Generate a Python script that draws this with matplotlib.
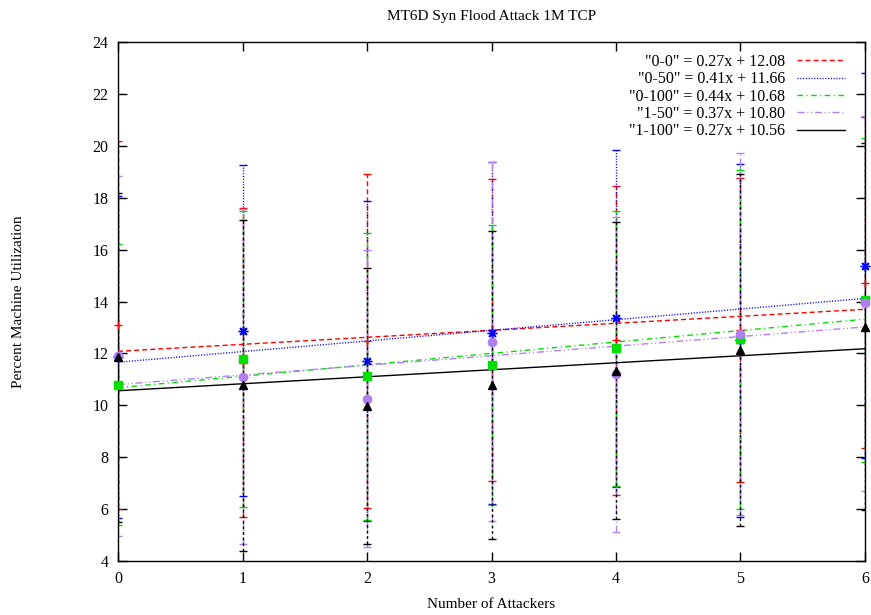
import numpy as np
import matplotlib
matplotlib.use("Agg")
import matplotlib.pyplot as plt

plt.rcParams['font.family'] = ['Liberation Serif', 'DejaVu Serif']

# number of attackers
attackers = [0, 1, 2, 3, 4, 5, 6]

# series names, mean utilisation and spread (error bar half height)
names = ["0-0", "0-50", "0-100", "1-50", "1-100"]
means_00 = [13.10, 11.64, 12.47, 12.90, 12.50, 12.90, 14.73]
err_00 = [7.10, 5.96, 6.43, 5.83, 5.95, 5.85, 6.37]
means_050 = [11.85, 12.88, 11.70, 12.77, 13.35, 12.50, 15.38]
err_050 = [6.20, 6.37, 6.16, 6.59, 6.50, 6.80, 7.41]
means_0100 = [10.80, 11.80, 11.11, 11.55, 12.20, 12.54, 14.06]
err_0100 = [5.40, 5.70, 5.52, 5.41, 5.30, 6.54, 6.26]
means_150 = [11.90, 11.10, 10.26, 12.45, 11.20, 12.75, 13.93]
err_150 = [6.95, 6.45, 5.71, 6.91, 6.07, 6.97, 7.22]
means_1100 = [11.85, 10.77, 9.96, 10.77, 11.33, 12.13, 13.03]
err_1100 = [6.35, 6.39, 5.32, 5.93, 5.73, 6.77, 7.07]

# linear fit coefficients shown in the key
slopes = [0.27, 0.41, 0.44, 0.37, 0.27]
intercepts = [12.08, 11.66, 10.68, 10.80, 10.56]

all_means = [means_00, means_050, means_0100, means_150, means_1100]
all_errs = [err_00, err_050, err_0100, err_150, err_1100]

colors = ['#ff0000', '#0000ff', '#00e000', '#b080f0', '#000000']
styles = [(0, (3.6, 2.2)), (0, (0.8, 1.2)), (0, (4, 2.5, 0.8, 2.5)),
          (0, (5, 2, 0.8, 2, 0.8, 2)), '-']
# error bars of the last set are drawn dashed in the original
bar_styles = styles[:4] + [(0, (2, 2))]
markers = ['+', (8, 2, 0), 's', 'o', '^']
msizes = [6, 7, 5.5, 6, 5.5]

fig = plt.figure(figsize=(8.71, 6.15), dpi=100)
ax = fig.add_axes([0.1355, 0.0878, 0.8576, 0.8439])

xs = np.array(attackers, dtype=float)
xfit = np.linspace(0, 6, 50)

for i in range(5):
    c = colors[i]
    eb = ax.errorbar(xs, all_means[i], yerr=all_errs[i], fmt='none',
                     ecolor=c, elinewidth=1, capsize=3, capthick=1,
                     zorder=2 + i * 0.1)
    eb[2][0].set_linestyle(bar_styles[i])
    ax.plot(xs, all_means[i], linestyle='none', marker=markers[i],
            markersize=msizes[i], color=c, markeredgewidth=1,
            zorder=4 + i * 0.1, clip_on=False)

for i in range(5):
    label = '"%s" = %.2fx + %.2f' % (names[i], slopes[i], intercepts[i])
    ax.plot(xfit, slopes[i] * xfit + intercepts[i], color=colors[i],
            linestyle=styles[i], linewidth=1, label=label, zorder=3)

ax.set_xlim(0, 6)
ax.set_ylim(4, 24)
ax.set_xticks(range(0, 7))
ax.set_yticks(range(4, 25, 2))
ax.tick_params(direction='in', length=6.5, top=True, right=True,
               labelsize=11.5, width=1)
ax.tick_params(axis='x', pad=7)
ax.tick_params(axis='y', pad=7)
for s in ax.spines.values():
    s.set_linewidth(1)

ax.set_title('MT6D Syn Flood Attack 1M TCP', fontsize=11, pad=16)
ax.set_xlabel('Number of Attackers', fontsize=11, labelpad=8)
ax.set_ylabel('Percent Machine Utilization', fontsize=11)
ax.yaxis.set_label_coords(-0.1245, 0.5)

ax.legend(loc='upper right', bbox_to_anchor=(0.989, 1.0), frameon=False,
          markerfirst=False, fontsize=11.5, handlelength=3.0,
          handletextpad=0.75, labelspacing=0.08, borderaxespad=0.35)

fig.savefig('out.png', dpi=100)
